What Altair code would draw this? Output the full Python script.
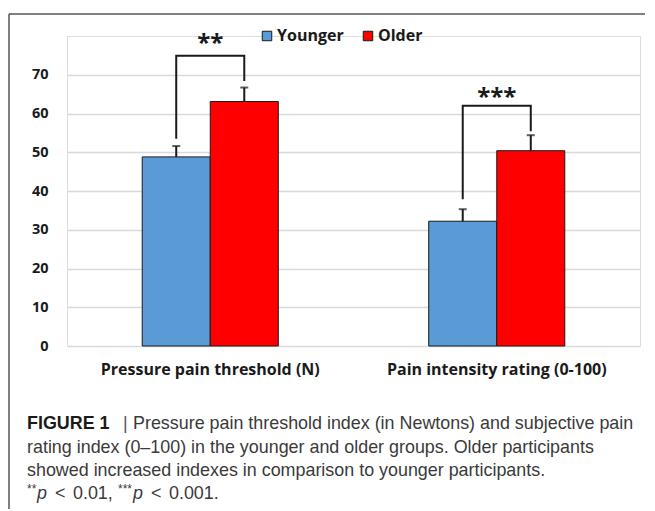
import altair as alt
import pandas as pd

categories = ["Pressure pain threshold (N)", "Pain intensity rating (0-100)"]
groups = ["Younger", "Older"]
mean_younger = [48.8, 32.2]
mean_older = [63.1, 50.4]
err_younger = [2.8, 3.1]
err_older = [3.6, 4.0]
bracket_left_low = [53.5, 37.9]
bracket_top = [74.9, 62.0]
bracket_right_low = [68.4, 55.4]
sig_labels = ["**", "***"]
sig_y = [79.0, 65.1]
y_ticks = [0, 10, 20, 30, 40, 50, 60, 70]
colors = ["#5B9BD5", "#FF0000"]

rows = []
for i, c in enumerate(categories):
    rows.append({"category": c, "group": "Younger", "mean": mean_younger[i], "upper": mean_younger[i] + err_younger[i]})
    rows.append({"category": c, "group": "Older", "mean": mean_older[i], "upper": mean_older[i] + err_older[i]})
bars_df = pd.DataFrame(rows)

brk = []
for i, c in enumerate(categories):
    brk.append({"category": c, "group": "Younger", "y": bracket_left_low[i], "step": 0})
    brk.append({"category": c, "group": "Younger", "y": bracket_top[i], "step": 1})
    brk.append({"category": c, "group": "Older", "y": bracket_top[i], "step": 2})
    brk.append({"category": c, "group": "Older", "y": bracket_right_low[i], "step": 3})
brk_df = pd.DataFrame(brk)

sig_df = pd.DataFrame({"category": categories, "label": sig_labels, "y": sig_y})

FONT = "Open Sans"
INK = "#1a1a1a"
xs = alt.Scale(domain=categories, paddingInner=0.525, paddingOuter=0.2625)
xos = alt.Scale(domain=groups, paddingInner=0, paddingOuter=0)
ys = alt.Scale(domain=[0, 80], nice=False)

X = alt.X("category:N", scale=xs, title=None,
          axis=alt.Axis(labelAngle=0, labelFont=FONT, labelFontSize=16, labelFontWeight="bold",
                        labelColor=INK, labelPadding=15, labelLimit=0, domain=False, ticks=False, grid=False))
XO = alt.XOffset("group:N", scale=xos)

base = alt.Chart(bars_df)

bars = base.mark_bar(stroke=INK, strokeWidth=1).encode(
    x=X,
    xOffset=XO,
    y=alt.Y("mean:Q", scale=ys, title=None,
            axis=alt.Axis(values=y_ticks, labelFont=FONT, labelFontSize=14.5, labelFontWeight="bold",
                          labelColor=INK, labelPadding=19, domain=False, ticks=False,
                          gridColor="#d9d9d9", gridWidth=1.5)),
    color=alt.Color("group:N", scale=alt.Scale(domain=groups, range=colors), title=None,
                    legend=alt.Legend(orient="none", legendX=192, legendY=-8, direction="horizontal",
                                      symbolType="square", symbolSize=90, symbolStrokeColor=INK,
                                      symbolStrokeWidth=1, labelFont=FONT, labelFontSize=16,
                                      labelFontWeight="bold", labelColor=INK, labelOffset=2,
                                      columnPadding=16, padding=0, labelLimit=0)),
)

err = base.mark_rule(color=INK, strokeWidth=2).encode(
    x=alt.X("category:N", scale=xs), xOffset=XO, y="mean:Q", y2="upper:Q")
caps = base.mark_tick(color=INK, thickness=2, size=8, orient="horizontal").encode(
    x=alt.X("category:N", scale=xs), xOffset=XO, y="upper:Q")

brackets = alt.Chart(brk_df).mark_line(color=INK, strokeWidth=2).encode(
    x=alt.X("category:N", scale=xs), xOffset=XO, y=alt.Y("y:Q", scale=ys),
    detail="category:N", order="step:Q")

sig = alt.Chart(sig_df).mark_text(font=FONT, fontSize=24, fontWeight="bold", color=INK,
                                  baseline="alphabetic", dy=11).encode(
    x=alt.X("category:N", scale=xs), y=alt.Y("y:Q", scale=ys), text="label:N")

one = pd.DataFrame({"a": [0]})

CAP = 17.9

def txt(s, x, y, size=CAP, weight="normal", style="normal", color="#3a3a3a", font="Liberation Sans"):
    return alt.Chart(one).mark_text(text=s, align="left", baseline="middle", font=font, fontSize=size,
                                    fontWeight=weight, fontStyle=style, color=color).encode(
        x=alt.value(x), y=alt.value(y))

OX, OY = 67, 36  # page position of plot origin

def px(x):
    return x - OX

def py(y):
    return y - OY

frame_top = alt.Chart(one).mark_rule(color="#555555", strokeWidth=1.5).encode(
    x=alt.value(px(9)), x2=alt.value(700), y=alt.value(py(14)))
frame_left = alt.Chart(one).mark_rule(color="#555555", strokeWidth=1.5).encode(
    x=alt.value(px(9)), y=alt.value(py(14)), y2=alt.value(600))

L4 = 494
caption = [
    txt("FIGURE 1", px(27), py(424), weight="bold", color="#1a1a1a"),
    txt("|", px(123), py(424), color="#555555"),
    txt("Pressure pain threshold index (in Newtons) and subjective pain", px(133), py(424)),
    txt("rating index (0\u2013100) in the younger and older groups. Older participants", px(27), py(447.5)),
    txt("showed increased indexes in comparison to younger participants.", px(27), py(471)),
    txt("**", px(27), py(L4 - 5), size=12),
    txt("p", px(37), py(L4), style="italic"),
    txt("<", px(55), py(L4)),
    txt("0.01,", px(73), py(L4)),
    txt("***", px(118), py(L4 - 5), size=12),
    txt("p", px(133), py(L4), style="italic"),
    txt("<", px(151), py(L4)),
    txt("0.001.", px(169), py(L4)),
]

chart = alt.layer(frame_top, frame_left, bars, err, caps, brackets, sig, *caption).properties(
    width=573, height=310,
    autosize=alt.AutoSizeParams(type="none"),
    padding={"left": 59, "top": 28, "right": 5, "bottom": 163},
).configure_view(stroke=None).configure(background="white")

chart.save("out.html", embed_options={"renderer": "svg", "actions": False})
